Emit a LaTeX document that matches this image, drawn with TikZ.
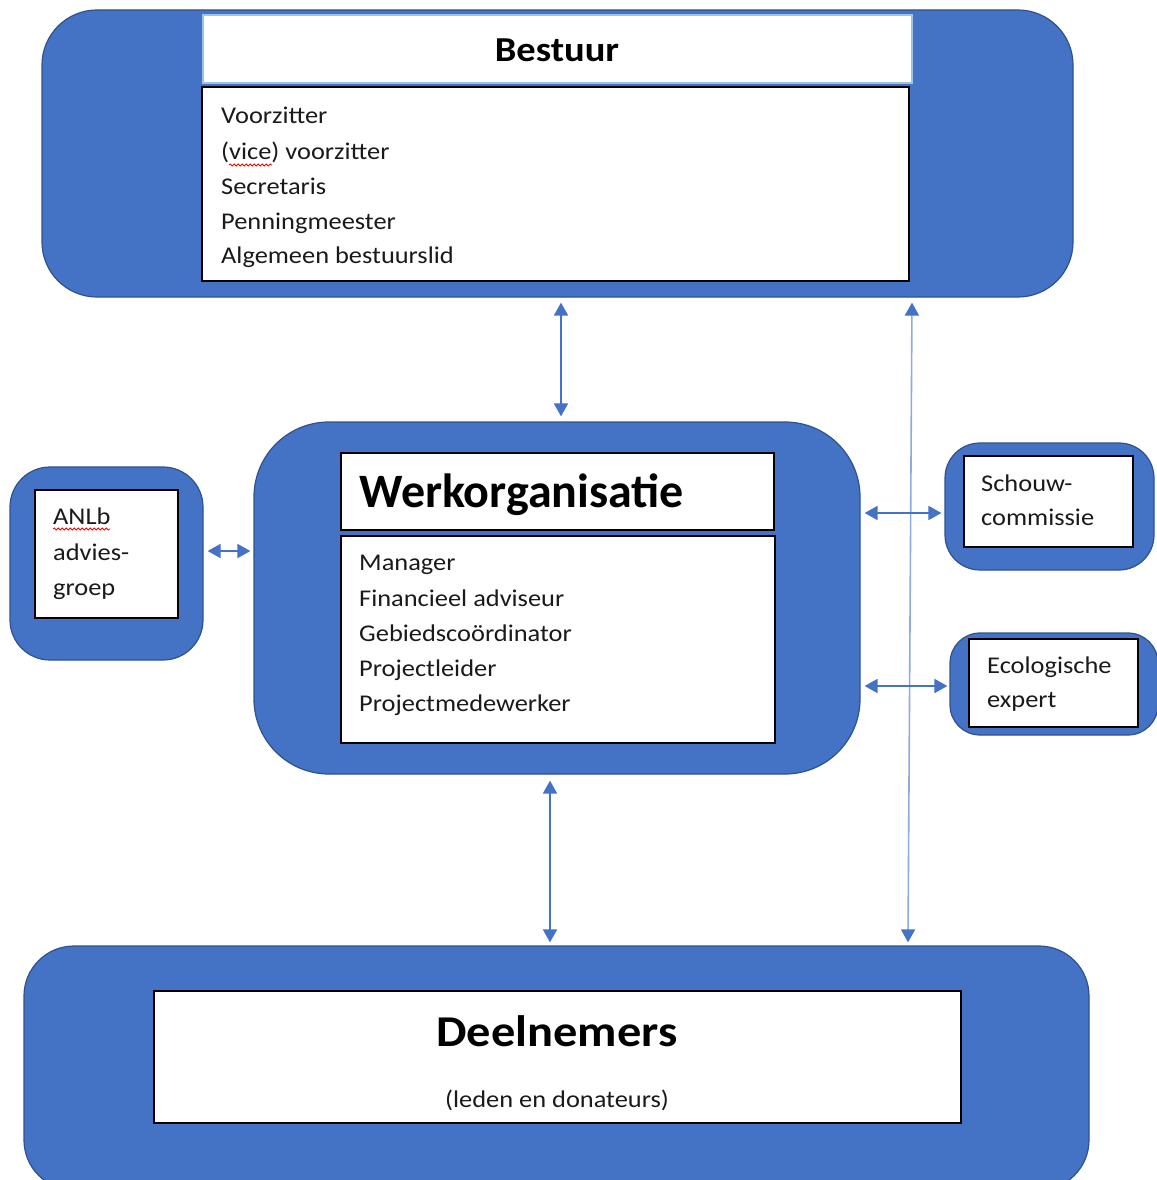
\documentclass[tikz,border=0pt]{standalone}
\usepackage{fontspec}
\setmainfont[FakeStretch=1.1]{Carlito}
\newfontfamily\plainfont{Carlito}
\usetikzlibrary{calc,arrows.meta,decorations.pathmorphing}
\definecolor{fillblue}{HTML}{4472C4}
\definecolor{edgeblue}{HTML}{2F528F}
\definecolor{lightline}{HTML}{8FAADC}
\definecolor{titleedge}{HTML}{9DC3E6}
\definecolor{txt}{HTML}{1A1A1A}
\begin{document}
\begin{tikzpicture}[x=1pt,y=-1pt,
 outer/.style={draw=edgeblue,fill=fillblue,line width=1.2pt,inner sep=0pt,rectangle},
 inbox/.style={draw=black,fill=white,line width=1.3pt,inner sep=0pt,rectangle},
 tbox/.style={draw=titleedge,fill=white,line width=1.3pt,inner sep=0pt,rectangle},
 lbl/.style={anchor=base west,inner sep=0pt,font=\fontsize{24}{28}\selectfont,text=txt},
 ttl/.style={inner sep=0pt,text=black},
 arr/.style={draw=fillblue,line width=1.8pt,{Triangle[width=14pt,length=13pt]}-{Triangle[width=14pt,length=13pt]}},
 longarr/.style={draw=lightline,line width=1.6pt,{Triangle[width=14pt,length=13pt,color=fillblue]}-{Triangle[width=14pt,length=13pt,color=fillblue]}},
 squig/.style={draw=red,line width=0.8pt,decorate,decoration={snake,segment length=4pt,amplitude=1pt}}]
\useasboundingbox (0,0) rectangle (1156,1180);

% Bestuur
\node[outer,rounded corners=55pt,minimum width=1031pt,minimum height=287pt] (bestuur) at (557.5,153.5) {};
\node[tbox,minimum width=709pt,minimum height=68pt] (bestuurT) at (557.5,49) {};
\node[inbox,minimum width=707pt,minimum height=194pt] (bestuurC) at (555.5,184) {};
\node[ttl,anchor=base,font=\bfseries\fontsize{35}{40}\selectfont] (bt) at (557,62) {Bestuur};
\node[lbl] (b1) at (221,124) {Voorzitter};
\node[lbl] (b2) at (221,159) {(vice) voorzitter};
\node[lbl] (b3) at (221,194) {Secretaris};
\node[lbl] (b4) at (221,229) {Penningmeester};
\node[lbl] (b5) at (221,263) {Algemeen bestuurslid};
\draw[squig] ($(b2.base west)+(8,6)$) -- ($(b2.base west)+(51,6)$);

% Werkorganisatie
\node[outer,rounded corners=75pt,minimum width=606pt,minimum height=352pt] (werk) at (557,598) {};
\node[inbox,minimum width=433pt,minimum height=77pt] (werkT) at (557.5,491.5) {};
\node[inbox,minimum width=434pt,minimum height=207pt] (werkC) at (558,639.5) {};
\node[ttl,anchor=base west,font=\plainfont\bfseries\fontsize{48}{54}\selectfont] (wt) at (359,507) {Werkorganisatie};
\node[lbl] (w1) at (359,570) {Manager};
\node[lbl] (w2) at (359,606) {Financieel adviseur};
\node[lbl] (w3) at (359,641) {Gebiedscoördinator};
\node[lbl] (w4) at (359,676) {Projectleider};
\node[lbl] (w5) at (359,711) {Projectmedewerker};

% ANLb
\node[outer,rounded corners=40pt,minimum width=193pt,minimum height=193pt] (anlb) at (106.5,563.5) {};
\node[inbox,minimum width=143pt,minimum height=128pt] (anlbC) at (106.5,554) {};
\node[lbl] (a1) at (53,524) {ANLb};
\node[lbl] (a2) at (53,560) {advies-};
\node[lbl] (a3) at (53,595) {groep};
\draw[squig] ($(a1.base west)+(0,5)$) -- ($(a1.base west)+(57,5)$);

% Schouwcommissie
\node[outer,rounded corners=35pt,minimum width=209pt,minimum height=127pt] (schouw) at (1049.5,506.5) {};
\node[inbox,minimum width=169pt,minimum height=91pt] (schouwC) at (1048.5,501.5) {};
\node[lbl] (s1) at (981,491) {Schouw-};
\node[lbl] (s2) at (981,525) {commissie};

% Ecologische expert
\node[outer,rounded corners=30pt,minimum width=208pt,minimum height=102pt] (eco) at (1054,684) {};
\node[inbox,minimum width=169pt,minimum height=88pt] (ecoC) at (1053.5,683) {};
\node[lbl] (e1) at (987,673) {Ecologische};
\node[lbl] (e2) at (987,707) {expert};

% Deelnemers
\node[outer,rounded corners=50pt,minimum width=1065pt,minimum height=244pt] (deel) at (556.5,1068) {};
\node[inbox,minimum width=807pt,minimum height=132pt] (deelC) at (557.5,1057) {};
\node[ttl,anchor=base,font=\bfseries\fontsize{44}{50}\selectfont] (dt) at (557,1046) {Deelnemers};
\node[lbl,anchor=base] (d1) at (557,1107) {(leden en donateurs)};

% Connectors
\draw[arr] ($(bestuur.south)+(3.5,5)$) -- ($(werk.north)+(4,-5)$);
\draw[arr] ($(werk.south)+(-7,6)$) -- ($(deel.north)+(-6.5,-3)$);
\draw[longarr] ($(bestuur.south)+(354.5,5)$) -- ($(deel.north)+(351.5,-3)$);
\draw[arr] ($(anlb.east)+(4,-12.5)$) -- ($(werk.west)+(-3,-47)$);
\draw[arr] ($(werk.east)+(4,-85)$) -- ($(schouw.west)+(-3,6.5)$);
\draw[arr] ($(werk.east)+(4,88)$) -- ($(eco.west)+(-2,2)$);
\end{tikzpicture}
\end{document}
